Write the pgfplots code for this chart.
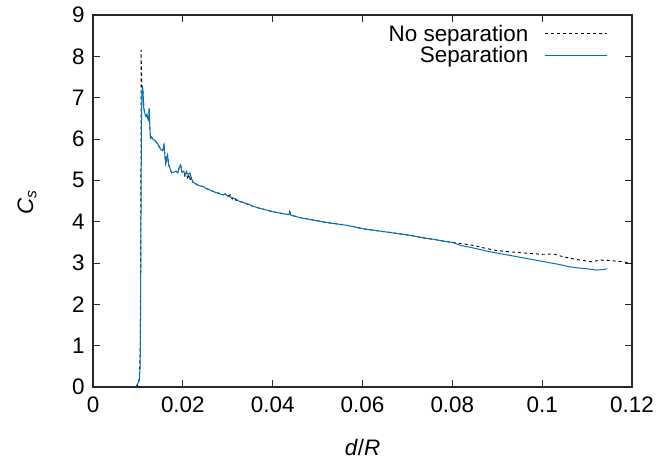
\documentclass[border=0pt]{standalone}
\usepackage{fontspec}
\setmainfont{Liberation Sans}
\usepackage{pgfplots}
\pgfplotsset{compat=1.18}
\definecolor{gpblue}{RGB}{0,114,189}
\definecolor{axgray}{RGB}{40,40,40}
\newcommand{\gfont}{\fontsize{22.5}{23}\selectfont}
\begin{document}
\begin{tikzpicture}
\useasboundingbox (-93bp,-73bp) rectangle (569bp,387bp);
\begin{axis}[
  at={(0,0)}, anchor=south west,
  scale only axis, width=539bp, height=372bp,
  xmin=0, xmax=0.12, ymin=0, ymax=9,
  xtick={0,0.02,0.04,0.06,0.08,0.1,0.12},
  xticklabels={0,0.02,0.04,0.06,0.08,0.1,0.12},
  ytick={0,1,2,3,4,5,6,7,8,9},
  yticklabels={0,1,2,3,4,5,6,7,8,9},
  /pgf/number format/assume math mode=true,
  tick align=inside, major tick length=7bp,
  axis line style={line width=1.1bp, axgray},
  every tick/.style={axgray, line width=0.8bp},
  ticklabel style={font=\gfont},
  xticklabel style={yshift=-6bp},
  yticklabel style={xshift=-5bp},
  xlabel={\textit{d}/\textit{R}},
  ylabel={\textit{C}\textsubscript{\textit{s}}},
  xlabel style={font=\gfont, at={(axis description cs:0.5,0)}, anchor=center, yshift=-60bp},
  ylabel style={font=\gfont, at={(axis description cs:-0.1225,0.497)}, anchor=center},
  legend style={draw=none, fill=none, font=\gfont, at={(rel axis cs:0.96,0.985)}, anchor=north east, row sep=0bp},
  legend cell align=right,
  legend plot pos=right,
  legend image code/.code={\draw[#1] (0bp,0bp) -- (62bp,0bp);},
]
\addplot[black, line width=0.9bp, dash pattern=on 3bp off 3bp] coordinates {
(0.0098,0) (0.0103,0.2) (0.0105,0.8) (0.0106,3.0) (0.0107,6.0) (0.0107,8.15)
(0.0108,7.6) (0.0109,7.3) (0.0110,7.25) (0.0111,7.15) (0.0112,7.0) (0.0113,6.75)
(0.0114,6.7) (0.0116,6.6) (0.0118,6.55) (0.0120,6.6) (0.0122,6.5) (0.0124,6.45)
(0.0125,6.75) (0.0126,6.4) (0.0128,6.02) (0.0130,6.05) (0.0133,6.0) (0.0136,5.98)
(0.0140,5.94) (0.0144,5.88) (0.0148,5.8) (0.0152,5.73) (0.0155,5.72) (0.0158,5.85)
(0.0160,5.6) (0.0162,5.42) (0.0164,5.55) (0.0166,5.61) (0.0168,5.4) (0.0171,5.3)
(0.0175,5.18) (0.0180,5.2) (0.0185,5.22) (0.0189,5.18) (0.0192,5.32) (0.0195,5.37)
(0.0198,5.2) (0.0202,5.22) (0.0205,5.08) (0.0208,5.2) (0.0211,5.02) (0.0214,5.15)
(0.0217,4.98) (0.0220,5.08) (0.0223,4.92) (0.0228,4.92) (0.0234,4.88) (0.0240,4.86)
(0.0246,4.85) (0.0252,4.80) (0.0258,4.78) (0.0264,4.75) (0.0270,4.72) (0.0275,4.70)
(0.0280,4.69) (0.0285,4.66) (0.0290,4.65) (0.0295,4.67) (0.0300,4.62) (0.0306,4.65)
(0.0310,4.55) (0.0314,4.6) (0.0318,4.52) (0.0324,4.50) (0.0330,4.48) (0.0336,4.46)
(0.0342,4.43) (0.0348,4.42) (0.0354,4.38) (0.0360,4.36) (0.0366,4.34) (0.0372,4.32)
(0.0380,4.30) (0.0390,4.27) (0.0400,4.24) (0.0410,4.22) (0.0420,4.20) (0.0430,4.18)
(0.0436,4.17) (0.0438,4.24) (0.0440,4.16) (0.0450,4.13) (0.0460,4.10) (0.0480,4.06)
(0.0500,4.02) (0.0520,3.98) (0.0540,3.95) (0.0560,3.92) (0.0580,3.88) (0.0600,3.83)
(0.0620,3.80) (0.0640,3.77) (0.0660,3.74) (0.0680,3.71) (0.0700,3.68) (0.0720,3.64)
(0.0740,3.60) (0.0760,3.57) (0.0780,3.53) (0.0800,3.50) (0.0820,3.47) (0.0850,3.42)
(0.0876,3.35) (0.0900,3.30) (0.0950,3.25) (0.1000,3.21) (0.1025,3.22) (0.1050,3.14)
(0.1080,3.08) (0.1110,3.03) (0.1130,3.07) (0.1150,3.06) (0.1180,3.03) (0.1200,2.99)
};
\addlegendentry{No separation\rule{14bp}{0bp}}
\addplot[gpblue, line width=1bp] coordinates {
(0.0095,0) (0.0103,0.15) (0.0105,0.5) (0.0106,2.0) (0.0107,4.5) (0.0108,6.5)
(0.0109,7.1) (0.0110,7.28) (0.0111,7.2) (0.0112,7.0) (0.0113,6.75) (0.0114,6.7)
(0.0116,6.6) (0.0118,6.55) (0.0120,6.6) (0.0122,6.5) (0.0124,6.45) (0.0125,6.75)
(0.0126,6.4) (0.0128,6.02) (0.0130,6.05) (0.0133,6.0) (0.0136,5.98) (0.0140,5.94)
(0.0144,5.88) (0.0148,5.8) (0.0152,5.73) (0.0155,5.72) (0.0158,5.85) (0.0160,5.6)
(0.0162,5.42) (0.0164,5.55) (0.0166,5.61) (0.0168,5.4) (0.0171,5.3) (0.0175,5.18)
(0.0180,5.2) (0.0185,5.22) (0.0189,5.18) (0.0192,5.32) (0.0195,5.37) (0.0198,5.2)
(0.0202,5.22) (0.0205,5.13) (0.0208,5.2) (0.0212,5.15) (0.0216,5.18) (0.0219,5.05)
(0.0223,4.95) (0.0228,4.92) (0.0234,4.88) (0.0240,4.86) (0.0246,4.85) (0.0252,4.80)
(0.0258,4.78) (0.0264,4.75) (0.0270,4.72) (0.0275,4.70) (0.0280,4.69) (0.0285,4.66)
(0.0290,4.65) (0.0295,4.67) (0.0300,4.62) (0.0306,4.60) (0.0312,4.57) (0.0318,4.55)
(0.0324,4.50) (0.0330,4.48) (0.0336,4.46) (0.0342,4.43) (0.0348,4.42) (0.0354,4.38)
(0.0360,4.36) (0.0366,4.34) (0.0372,4.32) (0.0380,4.30) (0.0390,4.27) (0.0400,4.24)
(0.0410,4.22) (0.0420,4.20) (0.0430,4.18) (0.0436,4.17) (0.0438,4.24) (0.0440,4.16)
(0.0450,4.13) (0.0460,4.10) (0.0480,4.06) (0.0500,4.02) (0.0520,3.98) (0.0540,3.95)
(0.0560,3.92) (0.0580,3.88) (0.0600,3.83) (0.0620,3.80) (0.0640,3.77) (0.0660,3.74)
(0.0680,3.71) (0.0700,3.68) (0.0720,3.64) (0.0740,3.60) (0.0760,3.57) (0.0780,3.53)
(0.0800,3.50) (0.0810,3.46) (0.0820,3.42) (0.0840,3.38) (0.0860,3.33) (0.0880,3.28)
(0.0900,3.24) (0.0920,3.20) (0.0940,3.16) (0.0960,3.12) (0.0980,3.08) (0.1000,3.04)
(0.1020,3.00) (0.1040,2.96) (0.1060,2.91) (0.1080,2.88) (0.1100,2.86) (0.1120,2.83)
(0.1135,2.84) (0.1145,2.86)
};
\addlegendentry{Separation\rule{14bp}{0bp}}
\end{axis}
\end{tikzpicture}
\end{document}
